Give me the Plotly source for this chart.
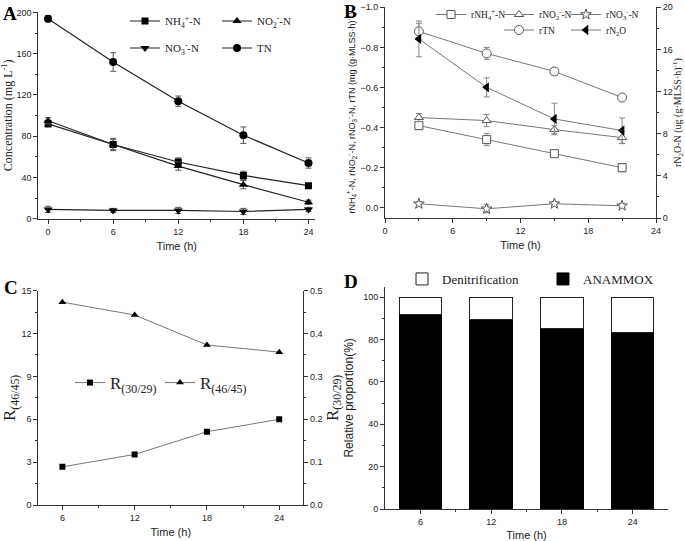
import plotly.graph_objects as go

# ---------------- data ----------------
# Panel A
time_a = [0, 6, 12, 18, 24]
nh4 = [92, 72, 55, 42, 32]
nh4_err = [3, 6, 4, 4, 2]
no2 = [95, 72, 51, 33, 16]
no2_err = [3, 5, 4, 4, 2]
no3 = [9, 8, 8, 7, 9]
no3_err = [3, 2, 3, 3, 2]
tn = [194, 152, 114, 81, 54]
tn_err = [3, 9, 5, 8, 5]

# Panel B
time_b = [3, 9, 15, 21]
r_nh4 = [-0.41, -0.34, -0.27, -0.20]
r_nh4_err = [0.02, 0.03, 0.01, 0.02]
r_no2 = [-0.45, -0.435, -0.39, -0.35]
r_no2_err = [0.02, 0.03, 0.02, 0.03]
r_no3 = [-0.02, 0.005, -0.02, -0.01]
r_no3_err = [0.01, 0.02, 0.01, 0.01]
r_tn = [-0.88, -0.77, -0.68, -0.55]
r_tn_err = [0.04, 0.03, 0.02, 0.01]
r_n2o = [17.0, 12.4, 9.4, 8.3]
r_n2o_err = [1.7, 0.9, 1.5, 1.2]

# Panel C
time_c = [6, 12, 18, 24]
r_46_45 = [14.2, 13.3, 11.2, 10.7]
r_30_29 = [0.089, 0.118, 0.171, 0.200]

# Panel D
time_d = [6, 12, 18, 24]
anammox = [92.0, 89.4, 85.4, 83.3]
denitrification = [8.0, 10.6, 14.6, 16.7]

# ---------------- styles ----------------
SANS = "Liberation Sans, Arial, sans-serif"
SERIF = "Liberation Serif, Times New Roman, serif"
AX = "#333333"
GRAY = "#777777"

fig = go.Figure()

def err(vals, color, w=3):
    return dict(type="data", array=vals, visible=True, color=color, thickness=1, width=w)

# Panel A traces
fig.add_trace(go.Scatter(x=time_a, y=nh4, error_y=err(nh4_err, "#555"), name="NH<sub>4</sub><sup>+</sup>-N",
                         mode="lines+markers", line=dict(color="#222", width=1.2),
                         marker=dict(symbol="square", size=7, color="black"),
                         xaxis="x", yaxis="y", legend="legend"))
fig.add_trace(go.Scatter(x=time_a, y=no2, error_y=err(no2_err, "#555"), name="NO<sub>2</sub><sup>-</sup>-N",
                         mode="lines+markers", line=dict(color="#222", width=1.2),
                         marker=dict(symbol="triangle-up", size=8, color="black"),
                         xaxis="x", yaxis="y", legend="legend"))
fig.add_trace(go.Scatter(x=time_a, y=no3, error_y=err(no3_err, "#555"), name="NO<sub>3</sub><sup>-</sup>-N",
                         mode="lines+markers", line=dict(color="#222", width=1.2),
                         marker=dict(symbol="triangle-down", size=8, color="black"),
                         xaxis="x", yaxis="y", legend="legend2"))
fig.add_trace(go.Scatter(x=time_a, y=tn, error_y=err(tn_err, "#555"), name="TN",
                         mode="lines+markers", line=dict(color="#222", width=1.2),
                         marker=dict(symbol="circle", size=8, color="black"),
                         xaxis="x", yaxis="y", legend="legend2"))

# Panel B traces
def open_trace(x, y, e, name, sym, legend, size=8):
    return go.Scatter(x=x, y=y, error_y=err(e, "#888"), name=name, mode="lines+markers",
                      line=dict(color=GRAY, width=1),
                      marker=dict(symbol=sym, size=size, color="white", line=dict(color="#555", width=1)),
                      xaxis="x2", yaxis="y2", legend=legend)

fig.add_trace(open_trace(time_b, r_nh4, r_nh4_err, "rNH<sub>4</sub><sup>+</sup>-N", "square", "legend3"))
fig.add_trace(open_trace(time_b, r_no2, r_no2_err, "rNO<sub>2</sub><sup>-</sup>-N", "triangle-up", "legend4"))
fig.add_trace(open_trace(time_b, r_no3, r_no3_err, "rNO<sub>3</sub><sup>-</sup>-N", "star", "legend5"))
fig.add_trace(open_trace(time_b, r_tn, r_tn_err, "rTN", "circle", "legend6", size=9))
fig.add_trace(go.Scatter(x=time_b, y=r_n2o, error_y=err(r_n2o_err, "#888"), name="rN<sub>2</sub>O",
                         mode="lines+markers", line=dict(color=GRAY, width=1),
                         marker=dict(symbol="triangle-left", size=9, color="black"),
                         xaxis="x2", yaxis="y3", legend="legend7"))

# Panel C traces
fig.add_trace(go.Scatter(x=time_c, y=r_30_29, name="R<sub>(30/29)</sub>", mode="lines+markers",
                         line=dict(color=GRAY, width=1), marker=dict(symbol="square", size=6, color="black"),
                         xaxis="x3", yaxis="y5", legend="legend8"))
fig.add_trace(go.Scatter(x=time_c, y=r_46_45, name="R<sub>(46/45)</sub>", mode="lines+markers",
                         line=dict(color=GRAY, width=1), marker=dict(symbol="triangle-up", size=7, color="black"),
                         xaxis="x3", yaxis="y4", legend="legend8"))

# Panel D traces
fig.add_trace(go.Bar(x=time_d, y=anammox, name="ANAMMOX", width=3.6,
                     marker=dict(color="black", line=dict(color="black", width=1)),
                     xaxis="x4", yaxis="y6", legend="legend9", legendrank=2))
fig.add_trace(go.Bar(x=time_d, y=denitrification, name="Denitrification", width=3.6,
                     marker=dict(color="white", line=dict(color="#222", width=1)),
                     xaxis="x4", yaxis="y6", legend="legend9", legendrank=1))

# ---------------- axes ----------------
def axis(**kw):
    base = dict(showline=True, linecolor=AX, linewidth=1, ticks="outside", ticklen=4,
                tickcolor=AX, tickfont=dict(family=SANS, size=9, color="#222"),
                showgrid=False, zeroline=False, automargin=False)
    base.update(kw)
    return base

def ttl(text, size=11, family=SANS, standoff=8):
    return dict(text=text, font=dict(family=family, size=size, color="#222"), standoff=standoff)

def mnr(**kw):
    d = dict(ticks="outside", ticklen=2, tickcolor=AX)
    d.update(kw)
    return d

H = 541.0
W = 685.0

layout = dict(
    width=685, height=541, margin=dict(l=0, r=0, t=0, b=0, autoexpand=False),
    paper_bgcolor="white", plot_bgcolor="white", barmode="stack", showlegend=True,
    # Panel A
    xaxis=axis(domain=[38.3 / W, 315 / W], range=[-0.9, 24.6], dtick=6, tick0=0,
               minor=mnr(dtick=3), anchor="y", title=ttl("Time (h)", standoff=6)),
    yaxis=axis(domain=[1 - 218.7 / H, 1 - 12.0 / H], range=[0, 200.5], dtick=40,
               minor=mnr(dtick=20), anchor="x",
               title=ttl("Concentration (mg L<sup>-1</sup>)", size=12, family=SERIF, standoff=5)),
    # Panel B
    xaxis2=axis(domain=[385 / W, 656 / W], range=[0, 24], dtick=6,
                minor=mnr(dtick=3), anchor="y2", title=ttl("Time (h)", standoff=6)),
    yaxis2=axis(domain=[1 - 218 / H, 1 - 7.3 / H], range=[0.051, -1.0], dtick=0.2, tickformat=".1f",
                minor=mnr(dtick=0.1), anchor="x2",
                title=ttl("rNH<sub>4</sub><sup>+</sup>-N, rNO<sub>2</sub><sup>-</sup>-N, rNO<sub>3</sub><sup>-</sup>-N, rTN (mg (g·MLSS·h)<sup>-1</sup>)",
                          size=9, standoff=3)),
    yaxis3=axis(domain=[1 - 218 / H, 1 - 7.3 / H], range=[0, 20], dtick=4, overlaying="y2", side="right",
                minor=mnr(dtick=2), anchor="x2",
                title=ttl("rN<sub>2</sub>O-N (ug (g·MLSS·h)<sup>-1</sup>)", size=10, family=SERIF, standoff=1)),
    # Panel C
    xaxis3=axis(domain=[38.3 / W, 303.3 / W], range=[4, 26], tickvals=time_c,
                minor=mnr(tickvals=[9, 15, 21]), anchor="y4", title=ttl("Time (h)", standoff=6)),
    yaxis4=axis(domain=[1 - 505 / H, 1 - 290.7 / H], range=[0, 15], dtick=3,
                minor=mnr(dtick=1.5), anchor="x3",
                title=ttl("R<sub>(46/45)</sub>", size=17, family=SERIF, standoff=4)),
    yaxis5=axis(domain=[1 - 505 / H, 1 - 290.7 / H], range=[0, 0.5], dtick=0.1, tickformat=".1f",
                overlaying="y4", side="right", minor=mnr(dtick=0.05), anchor="x3",
                title=ttl("R<sub>(30/29)</sub>", size=17, family=SERIF, standoff=2)),
    # Panel D
    xaxis4=axis(domain=[385 / W, 668 / W], range=[3, 27], tickvals=time_d,
                minor=mnr(tickvals=[9, 15, 21]), anchor="y6", title=ttl("Time (h)", standoff=6)),
    yaxis6=axis(domain=[1 - 509 / H, 1 - 286.7 / H], range=[0, 105], dtick=20,
                minor=mnr(dtick=10), anchor="x4",
                title=ttl("Relative proportion(%)", size=12, standoff=6)),
)

def leg(x, y, size=11, family=SERIF, ew=None, yanchor="middle"):
    d = dict(x=x, y=y, xanchor="left", yanchor=yanchor, orientation="h",
             bgcolor="rgba(0,0,0,0)", font=dict(family=family, size=size, color="#222"),
             itemwidth=30, traceorder="normal", tracegroupgap=0)
    if ew:
        d["entrywidth"] = ew
        d["entrywidthmode"] = "pixels"
    return d

layout["legend"] = leg(125 / W, 1 - 21 / H, ew=47)
layout["legend2"] = leg(125 / W, 1 - 48 / H, ew=47)
layout["legend3"] = leg(431 / W, 1.0, size=9.5, yanchor="top")
layout["legend4"] = leg(499 / W, 1.0, size=9.5, yanchor="top")
layout["legend5"] = leg(566 / W, 1.0, size=9.5, yanchor="top")
layout["legend6"] = leg(499 / W, 1 - 30 / H, size=9.5)
layout["legend7"] = leg(566 / W, 1 - 30 / H, size=9.5)
layout["legend8"] = leg(70 / W, 1 - 383 / H, size=17, ew=45)
layout["legend9"] = leg(402 / W, 1 - 279 / H, size=13, ew=96)

fig.update_layout(**layout)

# panel letters
for letter, x, y in [("A", 1, 14), ("B", 342, 12), ("C", 2, 287), ("D", 342, 281)]:
    fig.add_annotation(text="<b>" + letter + "</b>", x=x / W, y=1 - y / H, xref="paper", yref="paper",
                       xanchor="left", yanchor="middle", showarrow=False,
                       font=dict(family=SERIF, size=19, color="black"))

fig.write_html("out.html", config={"displayModeBar": False},
               post_script="document.body.style.margin='0';document.body.style.padding='0';"
                           "document.body.style.overflow='hidden';")
